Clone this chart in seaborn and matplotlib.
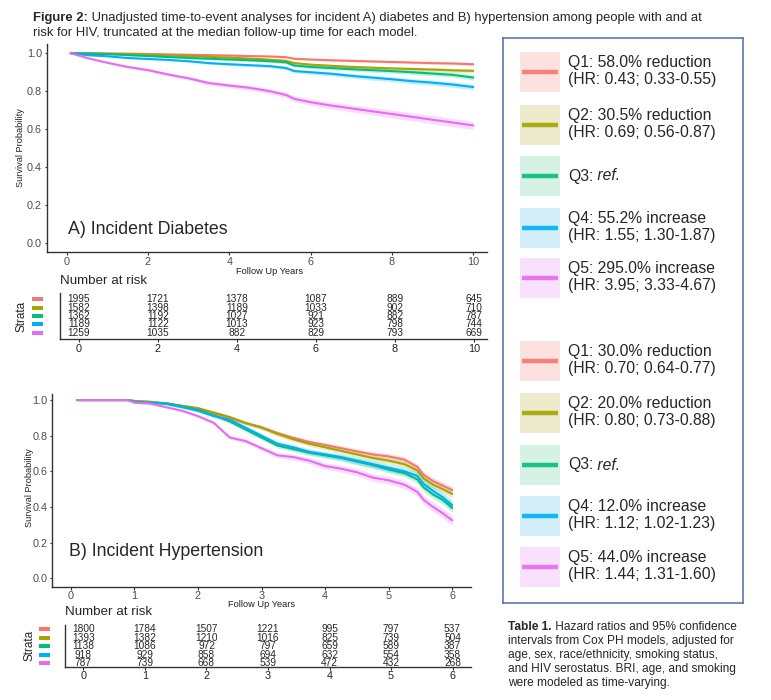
import numpy as np
import pandas as pd
import matplotlib
matplotlib.use('Agg')
import matplotlib.pyplot as plt
import matplotlib.transforms as mtransforms
from matplotlib.patches import Rectangle
import seaborn as sns

W, H = 771, 700

strata = ['Q1', 'Q2', 'Q3', 'Q4', 'Q5']
colors = ['#F8766D', '#A3A500', '#00BF7D', '#00B0F6', '#E76BF3']
swatch_fill = ['#FDE1DF', '#ECEBCC', '#D5F2E4', '#D4EFFC', '#F9E1FC']

# ---------------- A) Incident diabetes (survival curves) ----------------
t_dm = [0.1, 0.5, 1.0, 1.5, 2.0, 2.5, 3.0, 3.5, 4.0, 4.5, 5.0, 5.4, 5.6,
        6.0, 6.5, 7.0, 7.5, 8.0, 8.5, 9.0, 9.5, 10.0]
dm_q1 = [1.0, 1.0, 0.999, 0.998, 0.996, 0.994, 0.992, 0.990, 0.988, 0.985, 0.983,
         0.979, 0.971, 0.967, 0.963, 0.960, 0.957, 0.954, 0.951, 0.948, 0.946, 0.942]
dm_q2 = [1.0, 0.999, 0.997, 0.995, 0.992, 0.988, 0.985, 0.981, 0.977, 0.972, 0.966,
         0.960, 0.948, 0.940, 0.934, 0.928, 0.924, 0.920, 0.917, 0.914, 0.910, 0.907]
dm_q3 = [1.0, 0.998, 0.995, 0.990, 0.985, 0.980, 0.975, 0.971, 0.967, 0.963, 0.958,
         0.952, 0.935, 0.928, 0.922, 0.916, 0.911, 0.906, 0.900, 0.893, 0.886, 0.872]
dm_q4 = [1.0, 0.990, 0.984, 0.975, 0.970, 0.965, 0.958, 0.948, 0.942, 0.937, 0.932,
         0.922, 0.906, 0.900, 0.892, 0.881, 0.872, 0.863, 0.853, 0.845, 0.835, 0.822]
dm_q5 = [1.0, 0.975, 0.950, 0.928, 0.911, 0.888, 0.868, 0.843, 0.830, 0.818, 0.800,
         0.780, 0.760, 0.742, 0.725, 0.710, 0.695, 0.680, 0.665, 0.650, 0.635, 0.620]

# half-width of the 95% CI bands
dm_ci_q1 = [0, .001, .001, .002, .002, .003, .003, .003, .004, .004, .004,
            .005, .005, .005, .006, .006, .006, .007, .007, .007, .008, .008]
dm_ci_q2 = [0, .001, .002, .002, .003, .003, .004, .004, .005, .005, .006,
            .006, .007, .007, .008, .008, .009, .009, .010, .010, .011, .011]
dm_ci_q3 = [0, .001, .002, .003, .003, .004, .005, .005, .006, .006, .007,
            .008, .008, .009, .009, .010, .011, .011, .012, .012, .013, .013]
dm_ci_q4 = [0, .002, .003, .004, .004, .005, .006, .007, .007, .008, .009,
            .009, .010, .011, .011, .012, .013, .013, .014, .014, .015, .015]
dm_ci_q5 = [0, .004, .006, .007, .008, .009, .010, .011, .012, .013, .014,
            .015, .016, .017, .018, .019, .020, .021, .021, .022, .022, .022]

risk_t_dm = [0, 2, 4, 6, 8, 10]
risk_dm_q1 = [1995, 1721, 1378, 1087, 889, 645]
risk_dm_q2 = [1582, 1398, 1189, 1033, 902, 710]
risk_dm_q3 = [1362, 1192, 1027, 921, 882, 787]
risk_dm_q4 = [1189, 1122, 1013, 923, 798, 744]
risk_dm_q5 = [1259, 1035, 882, 829, 793, 669]

# ---------------- B) Incident hypertension ----------------
t_htn = [0.1, 0.5, 0.9, 1.0, 1.25, 1.5, 1.75, 2.0, 2.25, 2.5, 2.75, 3.0, 3.25,
         3.5, 3.75, 4.0, 4.25, 4.5, 4.75, 5.0, 5.25, 5.45, 5.55, 5.7, 5.85, 6.0]
htn_q1 = [1.0, 1.0, 1.0, 0.995, 0.990, 0.980, 0.967, 0.952, 0.925, 0.900, 0.870, 0.848, 0.815,
          0.788, 0.765, 0.748, 0.730, 0.712, 0.695, 0.684, 0.665, 0.625, 0.580, 0.545, 0.520, 0.495]
htn_q2 = [1.0, 1.0, 1.0, 0.995, 0.990, 0.982, 0.968, 0.955, 0.930, 0.905, 0.872, 0.845, 0.810,
          0.780, 0.755, 0.735, 0.715, 0.695, 0.675, 0.660, 0.640, 0.605, 0.560, 0.525, 0.500, 0.473]
htn_q3 = [1.0, 1.0, 1.0, 0.990, 0.985, 0.982, 0.965, 0.945, 0.915, 0.880, 0.835, 0.790, 0.745,
          0.725, 0.705, 0.690, 0.675, 0.655, 0.635, 0.610, 0.590, 0.555, 0.510, 0.470, 0.440, 0.395]
htn_q4 = [1.0, 1.0, 1.0, 0.990, 0.985, 0.978, 0.960, 0.940, 0.910, 0.890, 0.845, 0.800, 0.755,
          0.735, 0.710, 0.695, 0.680, 0.660, 0.640, 0.620, 0.600, 0.575, 0.530, 0.490, 0.455, 0.410]
htn_q5 = [1.0, 1.0, 1.0, 0.985, 0.980, 0.960, 0.940, 0.910, 0.872, 0.790, 0.770, 0.730, 0.690,
          0.680, 0.660, 0.630, 0.615, 0.595, 0.565, 0.550, 0.525, 0.485, 0.440, 0.400, 0.365, 0.325]

htn_ci_q1 = [0, 0, 0, .002, .003, .004, .005, .006, .007, .008, .009, .010, .011,
             .012, .012, .013, .014, .014, .015, .016, .016, .017, .018, .019, .020, .021]
htn_ci_q2 = [0, 0, 0, .002, .003, .004, .005, .006, .008, .009, .010, .011, .012,
             .013, .014, .014, .015, .016, .017, .017, .018, .019, .020, .021, .022, .023]
htn_ci_q3 = [0, 0, 0, .002, .003, .004, .006, .007, .009, .010, .011, .012, .013,
             .014, .015, .016, .017, .018, .018, .019, .020, .021, .022, .023, .024, .025]
htn_ci_q4 = [0, 0, 0, .002, .003, .005, .006, .008, .009, .011, .012, .013, .014,
             .015, .016, .017, .018, .019, .020, .021, .022, .023, .024, .025, .026, .027]
htn_ci_q5 = [0, 0, 0, .003, .004, .005, .007, .008, .010, .011, .012, .014, .015,
             .016, .017, .018, .019, .020, .021, .022, .023, .024, .025, .026, .027, .028]

risk_t_htn = [0, 1, 2, 3, 4, 5, 6]
risk_htn_q1 = [1800, 1784, 1507, 1221, 995, 797, 537]
risk_htn_q2 = [1393, 1382, 1210, 1016, 825, 739, 504]
risk_htn_q3 = [1138, 1086, 972, 797, 659, 589, 387]
risk_htn_q4 = [918, 929, 858, 694, 632, 554, 358]
risk_htn_q5 = [787, 739, 668, 539, 472, 432, 268]

# ---------------- legend / table text ----------------
dm_labels = ['Q1: 58.0% reduction\n(HR: 0.43; 0.33-0.55)',
             'Q2: 30.5% reduction\n(HR: 0.69; 0.56-0.87)',
             'Q3: ref.',
             'Q4: 55.2% increase\n(HR: 1.55; 1.30-1.87)',
             'Q5: 295.0% increase\n(HR: 3.95; 3.33-4.67)']
htn_labels = ['Q1: 30.0% reduction\n(HR: 0.70; 0.64-0.77)',
              'Q2: 20.0% reduction\n(HR: 0.80; 0.73-0.88)',
              'Q3: ref.',
              'Q4: 12.0% increase\n(HR: 1.12; 1.02-1.23)',
              'Q5: 44.0% increase\n(HR: 1.44; 1.31-1.60)']

title_bold = 'Figure 2:'
title_line1 = ' Unadjusted time-to-event analyses for incident A) diabetes and B) hypertension among people with and at'
title_line2 = 'risk for HIV, truncated at the median follow-up time for each model.'

caption_bold = 'Table 1.'
caption_lines = [' Hazard ratios and 95% confidence',
                 'intervals from Cox PH models, adjusted for',
                 'age, sex, race/ethnicity, smoking status,',
                 'and HIV serostatus. BRI, age, and smoking',
                 'were modeled as time-varying.']

# ---------------- style ----------------
sns.set_style('white')
plt.rcParams['font.family'] = ['Liberation Sans', 'DejaVu Sans']

fig = plt.figure(figsize=(7.71, 7.0), dpi=100)
bg = fig.add_axes([0, 0, 1, 1])
bg.axis('off')


def fx(x):
    return x / W


def fy(y):
    return 1 - y / H


def add_ax(l, t, r, b):
    return fig.add_axes([l / W, 1 - b / H, (r - l) / W, (b - t) / H])


def style_ticks(ax):
    ax.tick_params(axis='both', length=1.8, width=0.8, color='#333333',
                   labelcolor='#4d4d4d', labelsize=7.8, pad=1.5,
                   bottom=True, left=True)
    for side in ['top', 'right']:
        ax.spines[side].set_visible(False)
    for side in ['left', 'bottom']:
        ax.spines[side].set_color('#333333')
        ax.spines[side].set_linewidth(1.0)


def survival_panel(ax, t, curves, cis, xlim, ylim, xticks, label, label_xy):
    for s, hw, c in zip(curves, cis, colors):
        lo = np.array(s) - np.array(hw)
        hi = np.array(s) + np.array(hw)
        ax.fill_between(t, lo, hi, color=c, alpha=0.22, lw=0)
    df = pd.concat([pd.DataFrame({'time': t, 'surv': s, 'stratum': k})
                    for k, s in zip(strata, curves)])
    sns.lineplot(data=df, x='time', y='surv', hue='stratum',
                 palette=dict(zip(strata, colors)), ax=ax, legend=False,
                 linewidth=1.5, estimator=None, sort=False)
    ax.set_xlim(*xlim)
    ax.set_ylim(*ylim)
    ax.set_xticks(xticks)
    ax.set_yticks([0, 0.2, 0.4, 0.6, 0.8, 1.0])
    ax.set_yticklabels(['0.0', '0.2', '0.4', '0.6', '0.8', '1.0'])
    ax.set_xlabel('')
    ax.set_ylabel('')
    style_ticks(ax)
    ax.text(label_xy[0], label_xy[1], label, fontsize=12.8, ha='left', va='center')


def risk_table(ax, times, rows, xlim, ylim, swatch_x):
    for i, row in enumerate(rows):
        for tt, n in zip(times, row):
            ax.text(tt, i, str(n), ha='center', va='center', fontsize=7.3)
    ax.set_xlim(*xlim)
    ax.set_ylim(*ylim)
    ax.set_xticks(times)
    ax.set_yticks([])
    style_ticks(ax)
    ax.tick_params(axis='x', labelcolor='#222222')
    trans = mtransforms.blended_transform_factory(fig.transFigure, ax.transData)
    for i, c in enumerate(colors):
        ax.add_patch(Rectangle((swatch_x[0] / W, i - 0.24), (swatch_x[1] - swatch_x[0]) / W, 0.48,
                               transform=trans, color=c, clip_on=False, lw=0))


# ---------------- panel A ----------------
ax_a = add_ax(46.7, 44.3, 486.7, 252)
survival_panel(ax_a, t_dm, [dm_q1, dm_q2, dm_q3, dm_q4, dm_q5],
               [dm_ci_q1, dm_ci_q2, dm_ci_q3, dm_ci_q4, dm_ci_q5],
               (-0.49, 10.33), (-0.046, 1.047), [0, 2, 4, 6, 8, 10],
               'A) Incident Diabetes', (0.03, 0.075))
fig.text(fx(21), fy(148), 'Survival Probability', rotation=90, ha='center', va='center',
         fontsize=6.6, color='#222222')
fig.text(fx(270), fy(272), 'Follow Up Years', ha='center', va='center', fontsize=6.7, color='#222222')

rk_a = add_ax(60, 293, 487, 339)
risk_table(rk_a, risk_t_dm, [risk_dm_q1, risk_dm_q2, risk_dm_q3, risk_dm_q4, risk_dm_q5],
           (-0.48, 10.33), (4.73, -0.75), (31.7, 43.3))
fig.text(fx(60), fy(281), 'Number at risk', ha='left', va='center', fontsize=9.6)
fig.text(fx(21.7), fy(316.7), 'Strata', rotation=90, ha='center', va='center', fontsize=8.5)

# ---------------- panel B ----------------
ax_b = add_ax(52.3, 394, 470.7, 586.7)
survival_panel(ax_b, t_htn, [htn_q1, htn_q2, htn_q3, htn_q4, htn_q5],
               [htn_ci_q1, htn_ci_q2, htn_ci_q3, htn_ci_q4, htn_ci_q5],
               (-0.29, 6.29), (-0.047, 1.034), [0, 1, 2, 3, 4, 5, 6],
               'B) Incident Hypertension', (-0.03, 0.149))
fig.text(fx(29.3), fy(488), 'Survival Probability', rotation=90, ha='center', va='center',
         fontsize=6.6, color='#222222')
fig.text(fx(261.7), fy(604.3), 'Follow Up Years', ha='center', va='center', fontsize=6.7, color='#222222')

rk_b = add_ax(65, 625, 471, 666.7)
risk_table(rk_b, risk_t_htn, [risk_htn_q1, risk_htn_q2, risk_htn_q3, risk_htn_q4, risk_htn_q5],
           (-0.30, 6.30), (4.44, -0.51), (39.3, 50))
fig.text(fx(65), fy(612.3), 'Number at risk', ha='left', va='center', fontsize=9.6)
fig.text(fx(29.3), fy(645.7), 'Strata', rotation=90, ha='center', va='center', fontsize=8.5)

# ---------------- legend box ----------------
lg = add_ax(503, 38, 743, 603)
lg.set_xlim(503, 743)
lg.set_ylim(603, 38)
lg.set_xticks([])
lg.set_yticks([])
lg.patch.set_alpha(0)
for sp in lg.spines.values():
    sp.set_color('#4A6EA9')
    sp.set_linewidth(1.1)


def legend_block(centers, labels):
    for cy, lab, col, fill in zip(centers, labels, colors, swatch_fill):
        lg.add_patch(Rectangle((520, cy - 20), 40, 40, fc=fill, ec='none'))
        lg.plot([522, 558], [cy, cy], color=col, lw=3.2, alpha=0.9, solid_capstyle='butt')
        if lab.endswith('ref.'):
            head = lg.text(568, cy, lab[:-4].rstrip(), fontsize=11.3, ha='left', va='center')
            lg.annotate(' ref.', xy=(1, 0), xycoords=head, ha='left', va='bottom',
                        fontsize=11.3, style='italic')
        else:
            lg.text(568, cy - 1, lab, fontsize=11.3, ha='left', va='center', linespacing=1.17)


legend_block([72, 125, 176, 228, 278], dm_labels)
legend_block([361, 413, 465, 516, 567], htn_labels)

# ---------------- title and caption ----------------
tb = bg.text(fx(33), fy(21), title_bold, transform=fig.transFigure, fontsize=9.4,
             weight='bold', ha='left', va='baseline')
bg.annotate(title_line1, xy=(1, 0), xycoords=tb, ha='left', va='bottom', fontsize=9.4)
bg.text(fx(33), fy(36), title_line2, transform=fig.transFigure, fontsize=9.4,
        ha='left', va='baseline')

cb = bg.text(fx(508), fy(630), caption_bold, transform=fig.transFigure, fontsize=8.6,
             weight='bold', ha='left', va='baseline')
bg.annotate(caption_lines[0], xy=(1, 0), xycoords=cb, ha='left', va='bottom', fontsize=8.6)
for k, line in enumerate(caption_lines[1:]):
    bg.text(fx(508), fy(644 + 14 * k), line, transform=fig.transFigure, fontsize=8.6,
            ha='left', va='baseline')

fig.savefig('out.png', dpi=100, facecolor='white')
